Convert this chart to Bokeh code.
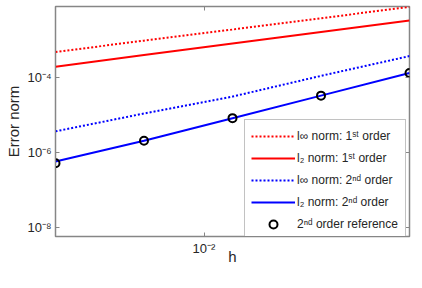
from bokeh.plotting import figure
from bokeh.models import (Range1d, FixedTicker, CustomJSTickFormatter, LogAxis,
                          Legend, LegendItem)
from bokeh.embed import file_html
from bokeh.resources import INLINE

# ---- data ----
h = [1/320, 1/160, 1/80, 1/40, 1/20]
linf_1st = [4.7e-4, 9.4e-4, 1.85e-3, 3.7e-3, 7.4e-3]
l2_1st = [1.9e-4, 3.9e-4, 7.9e-4, 1.6e-3, 3.2e-3]
linf_2nd = [3.66e-6, 1.09e-5, 3.07e-5, 1.09e-4, 3.66e-4]
l2_2nd = [5.8e-7, 2.05e-6, 8.2e-6, 3.25e-5, 1.3e-4]
ref_2nd = [5.2e-7, 2.05e-6, 8.2e-6, 3.25e-5, 1.3e-4]

x_ticks = [1e-2]
y_ticks = [1e-8, 1e-6, 1e-4]

labels = ["l\u221e norm: 1\u02e2\u1d57 order",
          "l\u2082 norm: 1\u02e2\u1d57 order",
          "l\u221e norm: 2\u207f\u1d48 order",
          "l\u2082 norm: 2\u207f\u1d48 order",
          "2\u207f\u1d48 order reference"]

FONT = "Liberation Sans"
AXIS_GRAY = "#868686"
TEXT = "#262626"

p = figure(width=414, height=272, x_axis_type="log", y_axis_type="log",
           x_range=Range1d(1/320, 1/20), y_range=Range1d(10**-8.23, 10**-2.12),
           output_backend="svg", toolbar_location=None,
           min_border_left=55, min_border_right=5, min_border_top=6,
           min_border_bottom=36)
p.grid.visible = False
p.outline_line_color = AXIS_GRAY
p.outline_line_width = 1.5
p.background_fill_color = "white"
p.border_fill_color = "white"

fmt = CustomJSTickFormatter(code="""
const sup = {'-':'\u207b','0':'\u2070','1':'\u00b9','2':'\u00b2','3':'\u00b3','4':'\u2074',
             '5':'\u2075','6':'\u2076','7':'\u2077','8':'\u2078','9':'\u2079'};
const e = Math.round(Math.log10(tick)).toString();
return '10' + e.split('').map(c => sup[c]).join('');
""")

for ax in (p.xaxis[0], p.yaxis[0]):
    ax.formatter = fmt
    ax.axis_line_color = AXIS_GRAY
    ax.major_tick_line_color = AXIS_GRAY
    ax.major_tick_in = 4
    ax.major_tick_out = 0
    ax.minor_tick_in = 0
    ax.minor_tick_out = 0
    ax.major_label_text_font = FONT
    ax.major_label_text_font_size = "13px"
    ax.major_label_text_color = TEXT
    ax.axis_label_text_font = FONT
    ax.axis_label_text_font_size = "15px"
    ax.axis_label_text_font_style = "normal"
    ax.axis_label_text_color = TEXT

p.xaxis[0].ticker = FixedTicker(ticks=x_ticks, minor_ticks=[])
p.yaxis[0].ticker = FixedTicker(ticks=y_ticks, minor_ticks=[])
p.xaxis[0].axis_label = "h"
p.yaxis[0].axis_label = "Error norm"
p.xaxis[0].major_label_standoff = 4
p.xaxis[0].axis_label_standoff = -11
p.yaxis[0].major_label_standoff = 4
p.yaxis[0].axis_label_standoff = 2

# mirrored ticks on top and right
for loc, tk in (("above", x_ticks), ("right", y_ticks)):
    ax = LogAxis(ticker=FixedTicker(ticks=tk, minor_ticks=[]),
                 formatter=CustomJSTickFormatter(code="return '';"),
                 axis_line_color=None, major_tick_line_color=AXIS_GRAY,
                 major_tick_in=4, major_tick_out=0, minor_tick_in=0, minor_tick_out=0,
                 major_label_standoff=0, major_label_text_font_size="0px")
    p.add_layout(ax, loc)

r1 = p.line(h, linf_1st, line_color="#ff0000", line_width=2, line_dash="2 2")
r2 = p.line(h, l2_1st, line_color="#ff0000", line_width=2)
r3 = p.line(h, linf_2nd, line_color="#0000ff", line_width=2, line_dash="2 2")
r4 = p.line(h, l2_2nd, line_color="#0000ff", line_width=2)
r5 = p.scatter(h, ref_2nd, marker="circle", size=8, fill_color=None,
               line_color="black", line_width=2)

legend = Legend(items=[LegendItem(label=lab, renderers=[r])
                       for lab, r in zip(labels, [r1, r2, r3, r4, r5])],
                location=(189, -5), margin=0, padding=6, spacing=2,
                glyph_width=44, glyph_height=20, label_standoff=2,
                label_width=102, label_height=20,
                label_text_font=FONT, label_text_font_size="12px",
                label_text_color=TEXT, border_line_color=AXIS_GRAY,
                border_line_width=1.5, background_fill_alpha=1)
p.add_layout(legend, "center")

open("out.html", "w").write(file_html(p, INLINE))
